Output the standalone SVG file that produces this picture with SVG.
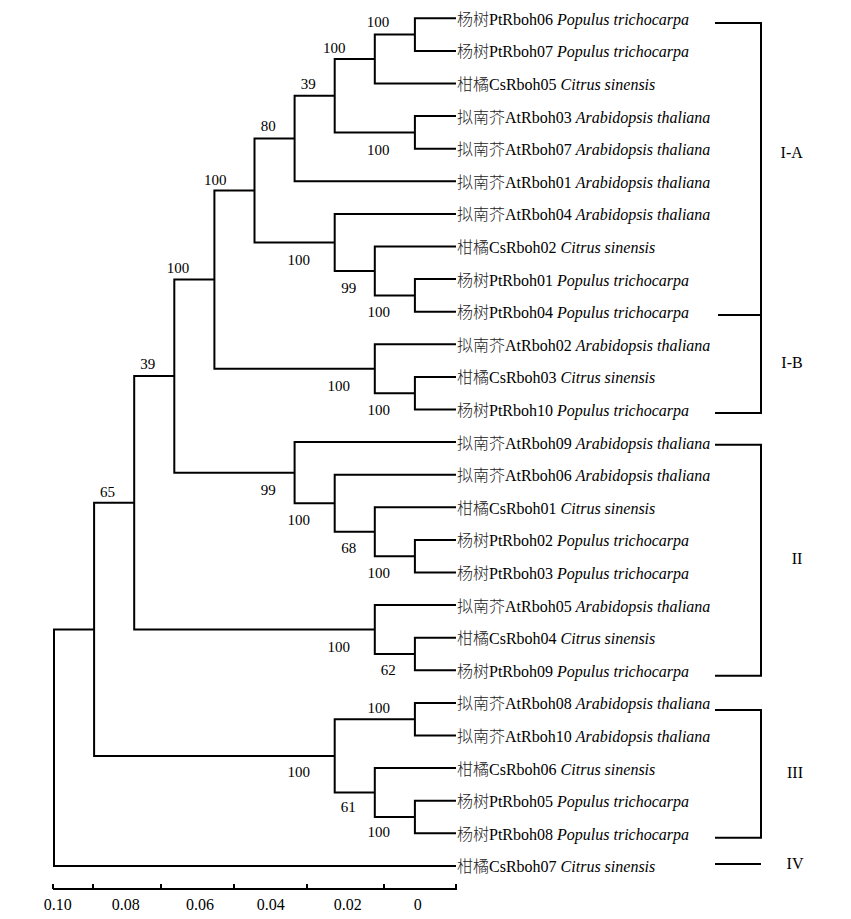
<svg xmlns="http://www.w3.org/2000/svg" width="851" height="919" viewBox="0 0 851 919">
<style>
.br{fill:none;stroke:#000;stroke-width:2;stroke-linejoin:miter}
.lf{font-family:"Liberation Serif","Noto Sans CJK SC",serif;font-size:16px;fill:#000}
.cn{font-family:"Noto Sans CJK SC",sans-serif;font-weight:300;fill:#222}
.sp{font-style:italic}
.bs{font-family:"Liberation Serif",serif;font-size:15px;fill:#000;text-anchor:middle}
.ax{font-family:"Liberation Serif",serif;font-size:16px;fill:#000;text-anchor:middle}
.cl{font-family:"Liberation Serif",serif;font-size:16px;fill:#000;text-anchor:middle}
</style>
<rect width="851" height="919" fill="#fff"/>
<g id="connectors" class="br">
<path d="M456 18.3H414.9V50.9H456"/>
<path d="M414.9 34.6H374.8V83.5H456"/>
<path d="M456 116.1H414.9V148.7H456"/>
<path d="M374.8 59.05H334.7V132.4H414.9"/>
<path d="M334.7 95.7H294.6V181.3H456"/>
<path d="M456 279.1H414.9V311.7H456"/>
<path d="M456 246.5H374.8V295.4H414.9"/>
<path d="M456 213.9H334.7V271H374.8"/>
<path d="M294.6 138.5H254.5V242.4H334.7"/>
<path d="M456 376.9H414.9V409.5H456"/>
<path d="M456 344.3H374.8V393.2H414.9"/>
<path d="M254.5 190.45H214.4V368.75H374.8"/>
<path d="M456 539.9H414.9V572.5H456"/>
<path d="M456 507.3H374.8V556.2H414.9"/>
<path d="M456 474.7H334.7V531.75H374.8"/>
<path d="M456 442.1H294.6V503.2H334.7"/>
<path d="M214.4 279.6H174.3V472.65H294.6"/>
<path d="M456 637.7H414.9V670.3H456"/>
<path d="M456 605.1H374.8V654H414.9"/>
<path d="M174.3 376.1H134.2V629.6H374.8"/>
<path d="M456 702.9H414.9V735.5H456"/>
<path d="M456 800.7H414.9V833.3H456"/>
<path d="M456 768.1H374.8V817H414.9"/>
<path d="M414.9 719.2H334.7V792.55H374.8"/>
<path d="M134.2 502.85H94.1V755.9H334.7"/>
<path d="M94.1 629.4H54V865.9H456"/>
</g>
<g id="bootstrap" class="bs">
<text x="378" y="27">100</text>
<text x="334.3" y="52.7">100</text>
<text x="308.3" y="89.3">39</text>
<text x="268.3" y="130.7">80</text>
<text x="378.3" y="155">100</text>
<text x="215.3" y="185">100</text>
<text x="298.7" y="265">100</text>
<text x="348.7" y="292.7">99</text>
<text x="178" y="273.3">100</text>
<text x="378.7" y="316.7">100</text>
<text x="338.7" y="390.7">100</text>
<text x="147.7" y="369">39</text>
<text x="378.7" y="415">100</text>
<text x="268.3" y="495">99</text>
<text x="107.5" y="496.5">65</text>
<text x="298.7" y="525">100</text>
<text x="348.7" y="553.3">68</text>
<text x="378.7" y="577.7">100</text>
<text x="338.7" y="651.7">100</text>
<text x="388.3" y="675">62</text>
<text x="378.7" y="713.3">100</text>
<text x="298.7" y="776.7">100</text>
<text x="348.3" y="811.7">61</text>
<text x="378.7" y="836.7">100</text>
</g>
<g id="leaf-PtRboh06" class="lf"><text x="457" y="24.8"><tspan class="cn">杨树</tspan>PtRboh06 <tspan class="sp">Populus trichocarpa</tspan></text></g>
<g id="leaf-PtRboh07" class="lf"><text x="457" y="57.4"><tspan class="cn">杨树</tspan>PtRboh07 <tspan class="sp">Populus trichocarpa</tspan></text></g>
<g id="leaf-CsRboh05" class="lf"><text x="457" y="90"><tspan class="cn">柑橘</tspan>CsRboh05 <tspan class="sp">Citrus sinensis</tspan></text></g>
<g id="leaf-AtRboh03" class="lf"><text x="457" y="122.6"><tspan class="cn">拟南芥</tspan>AtRboh03 <tspan class="sp">Arabidopsis thaliana</tspan></text></g>
<g id="leaf-AtRboh07" class="lf"><text x="457" y="155.2"><tspan class="cn">拟南芥</tspan>AtRboh07 <tspan class="sp">Arabidopsis thaliana</tspan></text></g>
<g id="leaf-AtRboh01" class="lf"><text x="457" y="187.8"><tspan class="cn">拟南芥</tspan>AtRboh01 <tspan class="sp">Arabidopsis thaliana</tspan></text></g>
<g id="leaf-AtRboh04" class="lf"><text x="457" y="220.4"><tspan class="cn">拟南芥</tspan>AtRboh04 <tspan class="sp">Arabidopsis thaliana</tspan></text></g>
<g id="leaf-CsRboh02" class="lf"><text x="457" y="253"><tspan class="cn">柑橘</tspan>CsRboh02 <tspan class="sp">Citrus sinensis</tspan></text></g>
<g id="leaf-PtRboh01" class="lf"><text x="457" y="285.6"><tspan class="cn">杨树</tspan>PtRboh01 <tspan class="sp">Populus trichocarpa</tspan></text></g>
<g id="leaf-PtRboh04" class="lf"><text x="457" y="318.2"><tspan class="cn">杨树</tspan>PtRboh04 <tspan class="sp">Populus trichocarpa</tspan></text></g>
<g id="leaf-AtRboh02" class="lf"><text x="457" y="350.8"><tspan class="cn">拟南芥</tspan>AtRboh02 <tspan class="sp">Arabidopsis thaliana</tspan></text></g>
<g id="leaf-CsRboh03" class="lf"><text x="457" y="383.4"><tspan class="cn">柑橘</tspan>CsRboh03 <tspan class="sp">Citrus sinensis</tspan></text></g>
<g id="leaf-PtRboh10" class="lf"><text x="457" y="416"><tspan class="cn">杨树</tspan>PtRboh10 <tspan class="sp">Populus trichocarpa</tspan></text></g>
<g id="leaf-AtRboh09" class="lf"><text x="457" y="448.6"><tspan class="cn">拟南芥</tspan>AtRboh09 <tspan class="sp">Arabidopsis thaliana</tspan></text></g>
<g id="leaf-AtRboh06" class="lf"><text x="457" y="481.2"><tspan class="cn">拟南芥</tspan>AtRboh06 <tspan class="sp">Arabidopsis thaliana</tspan></text></g>
<g id="leaf-CsRboh01" class="lf"><text x="457" y="513.8"><tspan class="cn">柑橘</tspan>CsRboh01 <tspan class="sp">Citrus sinensis</tspan></text></g>
<g id="leaf-PtRboh02" class="lf"><text x="457" y="546.4"><tspan class="cn">杨树</tspan>PtRboh02 <tspan class="sp">Populus trichocarpa</tspan></text></g>
<g id="leaf-PtRboh03" class="lf"><text x="457" y="579"><tspan class="cn">杨树</tspan>PtRboh03 <tspan class="sp">Populus trichocarpa</tspan></text></g>
<g id="leaf-AtRboh05" class="lf"><text x="457" y="611.6"><tspan class="cn">拟南芥</tspan>AtRboh05 <tspan class="sp">Arabidopsis thaliana</tspan></text></g>
<g id="leaf-CsRboh04" class="lf"><text x="457" y="644.2"><tspan class="cn">柑橘</tspan>CsRboh04 <tspan class="sp">Citrus sinensis</tspan></text></g>
<g id="leaf-PtRboh09" class="lf"><text x="457" y="676.8"><tspan class="cn">杨树</tspan>PtRboh09 <tspan class="sp">Populus trichocarpa</tspan></text></g>
<g id="leaf-AtRboh08" class="lf"><text x="457" y="709.4"><tspan class="cn">拟南芥</tspan>AtRboh08 <tspan class="sp">Arabidopsis thaliana</tspan></text></g>
<g id="leaf-AtRboh10" class="lf"><text x="457" y="742"><tspan class="cn">拟南芥</tspan>AtRboh10 <tspan class="sp">Arabidopsis thaliana</tspan></text></g>
<g id="leaf-CsRboh06" class="lf"><text x="457" y="774.6"><tspan class="cn">柑橘</tspan>CsRboh06 <tspan class="sp">Citrus sinensis</tspan></text></g>
<g id="leaf-PtRboh05" class="lf"><text x="457" y="807.2"><tspan class="cn">杨树</tspan>PtRboh05 <tspan class="sp">Populus trichocarpa</tspan></text></g>
<g id="leaf-PtRboh08" class="lf"><text x="457" y="839.8"><tspan class="cn">杨树</tspan>PtRboh08 <tspan class="sp">Populus trichocarpa</tspan></text></g>
<g id="leaf-CsRboh07" class="lf"><text x="457" y="872.4"><tspan class="cn">柑橘</tspan>CsRboh07 <tspan class="sp">Citrus sinensis</tspan></text></g>
<g id="clades">
<path class="br" d="M715 23H761V413H715M718 315H761"/>
<path class="br" d="M715 444.7H761V675.7H715"/>
<path class="br" d="M715 710H761V837.7H715"/>
<path class="br" d="M715 864H761"/>
<text class="cl" x="791.7" y="158">I-A</text>
<text class="cl" x="792" y="368">I-B</text>
<text class="cl" x="797" y="564">II</text>
<text class="cl" x="795" y="777.5">III</text>
<text class="cl" x="795" y="868.5">IV</text>
</g>
<g id="scale">
<path class="br" d="M53 889H456M53 884V889M93 884V889M161 884V889M234 884V889M307 884V889M384 884V889M456 884V890"/>
<text class="ax" x="57.7" y="910">0.10</text>
<text class="ax" x="125.7" y="910">0.08</text>
<text class="ax" x="200" y="910">0.06</text>
<text class="ax" x="270.7" y="910">0.04</text>
<text class="ax" x="347.7" y="910">0.02</text>
<text class="ax" x="417.7" y="910">0</text>
</g>
</svg>
